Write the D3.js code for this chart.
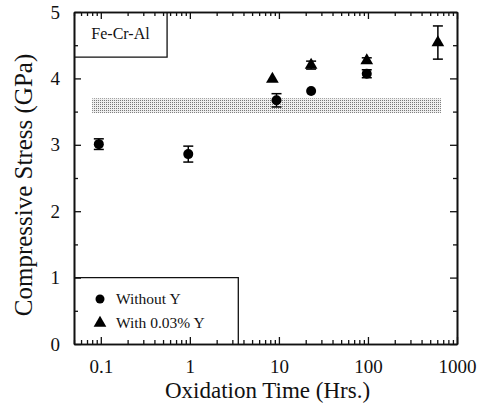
<!DOCTYPE html>
<html>
<head>
<meta charset="utf-8">
<script src="https://cdn.jsdelivr.net/npm/d3@7"></script>
<style>
  body { margin: 0; background: #fff; }
</style>
</head>
<body>
<div id="chart"></div>
<script>
// Compressive stress vs oxidation time (log x)

const width = 479,
    height = 409,
    margin = ({ top: 12, right: 22, bottom: 65, left: 74 }),
    serif = "'Liberation Serif'";

// Data
const timeNoY = [0.095, 0.96, 9.4, 23, 97];
const stressNoY = [3.01, 2.86, 3.67, 3.81, 4.07];
const errNoY = [0.08, 0.12, 0.1, 0, 0.06];

const timeY = [8.45, 23, 97, 610];
const stressY = [3.99, 4.2, 4.27, 4.54];
const errY = [0, 0.06, 0.04, 0.25];

const bandTime = [0.08, 660];
const bandStress = [3.48, 3.7];

const xTicks = [0.1, 1, 10, 100, 1000];
const yTicks = [0, 1, 2, 3, 4, 5];

const svg = d3.select("#chart")
  .append("svg")
  .attr("width", width)
  .attr("height", height)
  .style("font-family", serif);

const x = d3.scaleLog()
  .domain([0.05, 1000])
  .range([margin.left, width - margin.right]);

const y = d3.scaleLinear()
  .domain([0, 5])
  .range([height - margin.bottom, margin.top]);

// dotted pattern for the band
const defs = svg.append("defs");
const pat = defs.append("pattern")
  .attr("id", "dots")
  .attr("width", 2)
  .attr("height", 2)
  .attr("patternUnits", "userSpaceOnUse");
pat.append("rect").attr("width", 2).attr("height", 2).attr("fill", "#eee");
pat.append("rect").attr("width", 1).attr("height", 1).attr("fill", "#777");

svg.append("rect")
  .attr("x", x(bandTime[0]))
  .attr("y", y(bandStress[1]))
  .attr("width", x(bandTime[1]) - x(bandTime[0]))
  .attr("height", y(bandStress[0]) - y(bandStress[1]))
  .attr("fill", "url(#dots)");

// minor ticks on the log axis
const minor = [];
for (let e = -2; e < 3; e++) {
  for (let k = 2; k <= 9; k++) {
    const v = k * Math.pow(10, e);
    if (v >= 0.05 && v <= 1000) minor.push(v);
  }
}

const axBottom = d3.axisBottom(x).tickValues(xTicks).tickFormat(d3.format("~g"))
  .tickSizeInner(-7).tickSizeOuter(0).tickPadding(16);
const axBottomMinor = d3.axisBottom(x).tickValues(minor).tickFormat("")
  .tickSizeInner(-4).tickSizeOuter(0);
const axTop = d3.axisTop(x).tickValues(xTicks).tickFormat("")
  .tickSizeInner(-7).tickSizeOuter(0);
const axTopMinor = d3.axisTop(x).tickValues(minor).tickFormat("")
  .tickSizeInner(-4).tickSizeOuter(0);

const axLeft = d3.axisLeft(y).tickValues(yTicks).tickFormat(d3.format("d"))
  .tickSizeInner(-7).tickSizeOuter(0).tickPadding(14);
const axLeftMinor = d3.axisLeft(y).tickValues(d3.range(0.5, 5, 1)).tickFormat("")
  .tickSizeInner(-4).tickSizeOuter(0);
const axRight = d3.axisRight(y).tickValues(yTicks).tickFormat("")
  .tickSizeInner(-7).tickSizeOuter(0);
const axRightMinor = d3.axisRight(y).tickValues(d3.range(0.5, 5, 1)).tickFormat("")
  .tickSizeInner(-4).tickSizeOuter(0);

const yb = height - margin.bottom, yt = margin.top;
const xl = margin.left, xr = width - margin.right;

svg.append("g").attr("transform", `translate(0,${yb})`).call(axBottom);
svg.append("g").attr("transform", `translate(0,${yb})`).call(axBottomMinor);
svg.append("g").attr("transform", `translate(0,${yt})`).call(axTop);
svg.append("g").attr("transform", `translate(0,${yt})`).call(axTopMinor);
svg.append("g").attr("transform", `translate(${xl},0)`).call(axLeft);
svg.append("g").attr("transform", `translate(${xl},0)`).call(axLeftMinor);
svg.append("g").attr("transform", `translate(${xr},0)`).call(axRight);
svg.append("g").attr("transform", `translate(${xr},0)`).call(axRightMinor);

svg.selectAll(".tick line").attr("stroke", "#111").attr("stroke-width", 1.3);
svg.selectAll(".domain").attr("stroke", "#111").attr("stroke-width", 1.6);
svg.selectAll(".tick text")
  .style("font-family", serif)
  .style("font-size", "19px")
  .attr("fill", "#111");

// Fe-Cr-Al label box
svg.append("path")
  .attr("d", `M${xl},${y(4.32)}H${x(0.555)}V${yt}`)
  .attr("fill", "none").attr("stroke", "#111").attr("stroke-width", 1.3);
svg.append("text")
  .attr("x", (xl + x(0.555)) / 2)
  .attr("y", y(4.6))
  .attr("text-anchor", "middle")
  .style("font-family", serif)
  .style("font-size", "16px")
  .attr("fill", "#111")
  .text("Fe-Cr-Al");

// legend box
svg.append("path")
  .attr("d", `M${xl},${y(1)}H${x(3.5)}V${yb}`)
  .attr("fill", "none").attr("stroke", "#111").attr("stroke-width", 1.3);

const tri = d3.symbol().type(d3.symbolTriangle).size(70);

svg.append("circle").attr("cx", 100).attr("cy", 299).attr("r", 4.5).attr("fill", "#000");
svg.append("path").attr("d", tri).attr("transform", "translate(100,323)").attr("fill", "#000");
svg.append("text").attr("x", 116).attr("y", 304)
  .style("font-family", serif).style("font-size", "15.5px").attr("fill", "#111")
  .text("Without Y");
svg.append("text").attr("x", 116).attr("y", 328)
  .style("font-family", serif).style("font-size", "15.5px").attr("fill", "#111")
  .text("With 0.03% Y");

// error bars
function errBars(ts, vs, es) {
  const g = svg.append("g").attr("stroke", "#000").attr("stroke-width", 1.5);
  ts.forEach((t, i) => {
    if (!es[i]) return;
    const cx = x(t), y0 = y(vs[i] - es[i]), y1 = y(vs[i] + es[i]);
    g.append("line").attr("x1", cx).attr("x2", cx).attr("y1", y0).attr("y2", y1);
    g.append("line").attr("x1", cx - 5).attr("x2", cx + 5).attr("y1", y0).attr("y2", y0);
    g.append("line").attr("x1", cx - 5).attr("x2", cx + 5).attr("y1", y1).attr("y2", y1);
  });
}
errBars(timeNoY, stressNoY, errNoY);
errBars(timeY, stressY, errY);

svg.append("g")
  .selectAll("circle")
  .data(timeNoY)
  .join("circle")
  .attr("cx", d => x(d))
  .attr("cy", (d, i) => y(stressNoY[i]))
  .attr("r", 5)
  .attr("fill", "#000");

svg.append("g")
  .selectAll("path")
  .data(timeY)
  .join("path")
  .attr("d", tri)
  .attr("transform", (d, i) => `translate(${x(d)},${y(stressY[i])})`)
  .attr("fill", "#000");

// axis titles
svg.append("text")
  .attr("x", (xl + xr) / 2 + 2)
  .attr("y", 398)
  .attr("text-anchor", "middle")
  .style("font-family", serif)
  .style("font-size", "23px")
  .attr("fill", "#111")
  .text("Oxidation Time (Hrs.)");

svg.append("text")
  .attr("transform", `translate(32,185) rotate(-90)`)
  .attr("text-anchor", "middle")
  .style("font-family", serif)
  .style("font-size", "25px")
  .attr("fill", "#111")
  .text("Compressive Stress (GPa)");
</script>
</body>
</html>
